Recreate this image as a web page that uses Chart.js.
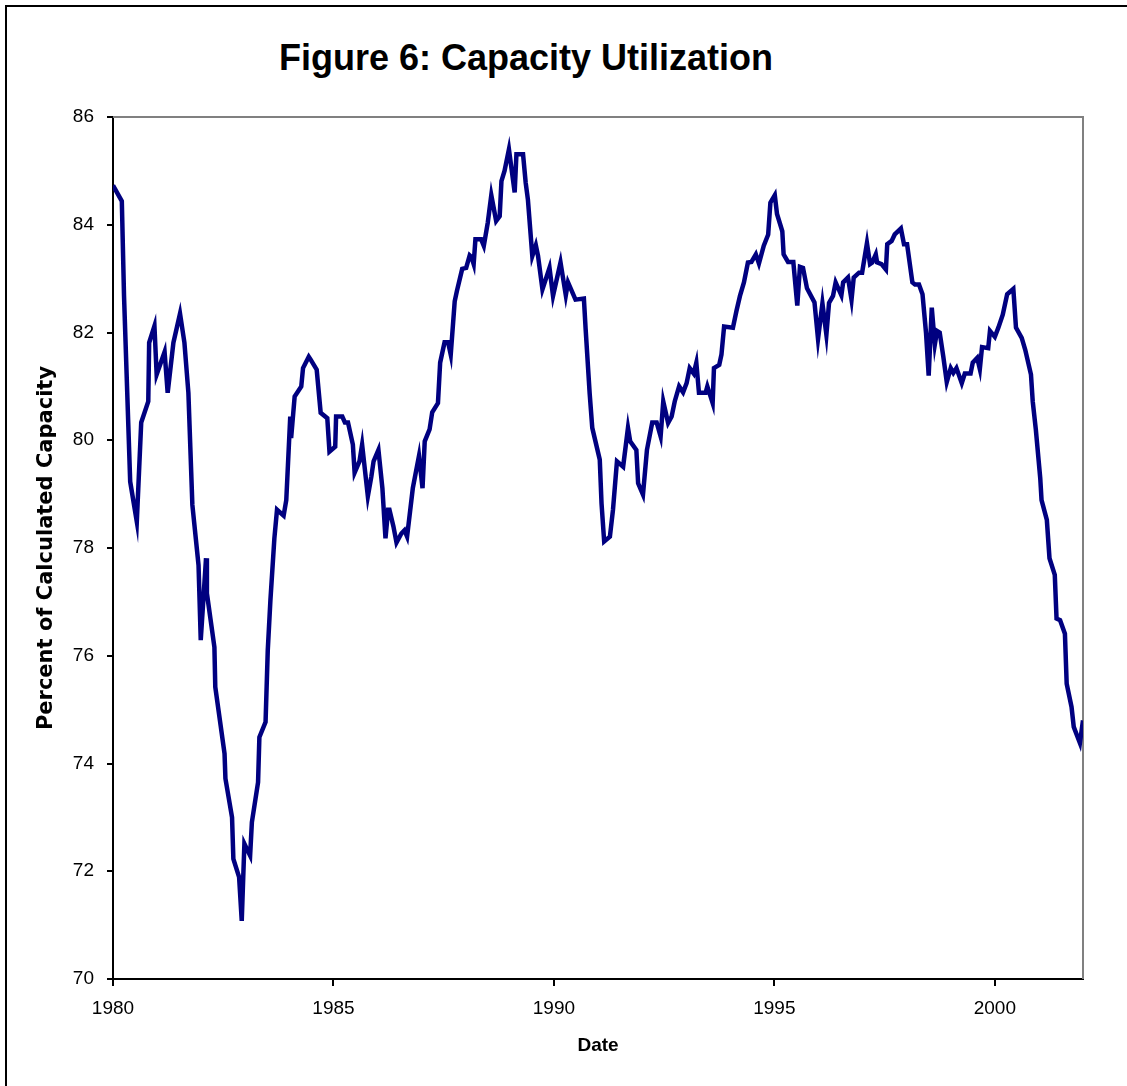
<!DOCTYPE html>
<html>
<head>
<meta charset="utf-8">
<title>Figure 6: Capacity Utilization</title>
<script src="https://cdn.jsdelivr.net/npm/chart.js@4.4.1/dist/chart.umd.min.js"></script>
<style>
  html, body { margin: 0; padding: 0; background: #fff; overflow: hidden; }
  #wrap { position: relative; width: 1127px; height: 1086px; }
  #frame { position: absolute; left: 5px; top: 5px; width: 1140px; height: 1100px;
           border-left: 2px solid #000; border-top: 2px solid #000; box-sizing: border-box; }
  #title { position: absolute; left: 0; top: 40px; width: 1052px; text-align: center;
           font: bold 36px "Liberation Sans", Arial, sans-serif; line-height: 36px; color: #000; }
  canvas { position: absolute; left: 0; top: 0; }
</style>
</head>
<body>
<div id="wrap">
  <div id="frame"></div>
  <div id="title">Figure 6: Capacity Utilization</div>
  <canvas id="myChart" width="1127" height="1086"></canvas>
</div>
<script>
// dates as decimal years
const dates = [
  1980.00, 1980.20, 1980.25, 1980.39, 1980.54, 1980.64, 1980.80, 1980.82, 1980.94, 1980.99,
  1981.17, 1981.24, 1981.37, 1981.52, 1981.62, 1981.71, 1981.80, 1981.94, 1981.99, 1982.11,
  1982.13, 1982.30, 1982.32, 1982.53, 1982.55, 1982.70, 1982.73, 1982.86, 1982.92, 1982.98,
  1983.11, 1983.15, 1983.29, 1983.32, 1983.46, 1983.51, 1983.57, 1983.66, 1983.72, 1983.87,
  1983.93, 1984.02, 1984.04, 1984.12, 1984.27, 1984.31, 1984.44, 1984.48, 1984.62, 1984.71,
  1984.86, 1984.91, 1985.04, 1985.06, 1985.20, 1985.26, 1985.33, 1985.44, 1985.48, 1985.59,
  1985.65, 1985.78, 1985.86, 1985.91, 1986.02, 1986.11, 1986.18, 1986.24, 1986.27, 1986.36,
  1986.43, 1986.54, 1986.61, 1986.67, 1986.80, 1986.94, 1987.02, 1987.07, 1987.18, 1987.24,
  1987.37, 1987.42, 1987.52, 1987.60, 1987.66, 1987.75, 1987.80, 1987.92, 1988.01, 1988.09,
  1988.13, 1988.18, 1988.22, 1988.35, 1988.41, 1988.50, 1988.58, 1988.69, 1988.77, 1988.81,
  1988.88, 1988.98, 1989.11, 1989.15, 1989.30, 1989.36, 1989.41, 1989.51, 1989.59, 1989.64,
  1989.74, 1989.90, 1989.98, 1990.15, 1990.27, 1990.32, 1990.49, 1990.68, 1990.72, 1990.81,
  1990.87, 1991.04, 1991.08, 1991.14, 1991.27, 1991.34, 1991.43, 1991.57, 1991.68, 1991.73,
  1991.87, 1991.91, 1992.02, 1992.11, 1992.23, 1992.33, 1992.42, 1992.48, 1992.59, 1992.67,
  1992.74, 1992.84, 1992.93, 1993.01, 1993.08, 1993.17, 1993.23, 1993.29, 1993.44, 1993.48,
  1993.60, 1993.63, 1993.75, 1993.80, 1993.86, 1994.06, 1994.14, 1994.22, 1994.31, 1994.40,
  1994.48, 1994.58, 1994.65, 1994.76, 1994.86, 1994.91, 1995.01, 1995.06, 1995.18, 1995.21,
  1995.31, 1995.43, 1995.52, 1995.58, 1995.65, 1995.74, 1995.91, 1995.99, 1996.09, 1996.18,
  1996.24, 1996.33, 1996.39, 1996.52, 1996.56, 1996.67, 1996.75, 1996.80, 1996.92, 1996.99,
  1997.10, 1997.17, 1997.22, 1997.30, 1997.33, 1997.43, 1997.53, 1997.56, 1997.66, 1997.73,
  1997.87, 1997.94, 1998.01, 1998.13, 1998.19, 1998.28, 1998.36, 1998.44, 1998.50, 1998.57,
  1998.64, 1998.69, 1998.75, 1998.83, 1998.91, 1999.00, 1999.06, 1999.13, 1999.25, 1999.32,
  1999.45, 1999.50, 1999.60, 1999.66, 1999.71, 1999.85, 1999.89, 2000.00, 2000.08, 2000.18,
  2000.28, 2000.42, 2000.48, 2000.61, 2000.69, 2000.82, 2000.86, 2000.93, 2001.03, 2001.06,
  2001.18, 2001.24, 2001.36, 2001.40, 2001.48, 2001.59, 2001.63, 2001.74, 2001.79, 2001.93,
  2002.00
];

const capUtil = [
  84.73, 84.44, 82.68, 79.23, 78.49, 80.33, 80.72, 81.81, 82.12, 81.22,
  81.64, 80.88, 81.81, 82.35, 81.81, 80.88, 78.80, 77.68, 76.29, 77.81,
  77.16, 76.16, 75.42, 74.18, 73.72, 73.00, 72.23, 71.89, 71.08, 72.51,
  72.29, 72.91, 73.65, 74.49, 74.77, 76.10, 77.03, 78.18, 78.71, 78.60,
  78.89, 80.44, 80.04, 80.81, 81.00, 81.34, 81.55, 81.50, 81.31, 80.51,
  80.41, 79.79, 79.88, 80.44, 80.44, 80.33, 80.33, 79.92, 79.40, 79.61,
  79.92, 78.96, 79.33, 79.61, 79.82, 79.11, 78.18, 78.71, 78.71, 78.40,
  78.10, 78.27, 78.33, 78.21, 79.11, 79.71, 79.11, 79.98, 80.20, 80.52,
  80.69, 81.44, 81.82, 81.82, 81.59, 82.58, 82.77, 83.18, 83.20, 83.43,
  83.40, 83.27, 83.73, 83.73, 83.61, 84.04, 84.55, 84.07, 84.16, 84.81,
  85.00, 85.40, 84.60, 85.31, 85.31, 84.78, 84.47, 83.42, 83.62, 83.42,
  82.80, 83.20, 82.68, 83.30, 82.69, 82.93, 82.61, 82.63, 82.06, 80.88,
  80.23, 79.64, 78.83, 78.12, 78.21, 78.71, 79.61, 79.51, 80.23, 79.98,
  79.82, 79.20, 78.99, 79.82, 80.33, 80.33, 80.07, 80.72, 80.32, 80.44,
  80.72, 81.00, 80.89, 81.06, 81.34, 81.24, 81.44, 80.88, 80.88, 81.00,
  80.69, 81.34, 81.40, 81.59, 82.11, 82.09, 82.40, 82.68, 82.93, 83.30,
  83.31, 83.45, 83.28, 83.61, 83.82, 84.41, 84.55, 84.20, 83.88, 83.45,
  83.31, 83.31, 82.50, 83.22, 83.20, 82.82, 82.56, 81.88, 82.54, 81.96,
  82.55, 82.68, 82.93, 82.69, 82.93, 83.02, 82.61, 83.02, 83.11, 83.11,
  83.66, 83.27, 83.30, 83.45, 83.30, 83.27, 83.17, 83.64, 83.70, 83.82,
  83.93, 83.64, 83.64, 82.93, 82.89, 82.89, 82.71, 81.99, 81.20, 82.46,
  81.78, 82.03, 82.00, 81.56, 81.08, 81.34, 81.25, 81.34, 81.06, 81.24,
  81.24, 81.44, 81.53, 81.32, 81.73, 81.71, 82.03, 81.92, 82.09, 82.33,
  82.71, 82.81, 82.09, 81.90, 81.68, 81.22, 80.72, 80.20, 79.30, 78.89,
  78.52, 77.81, 77.50, 76.69, 76.66, 76.41, 75.48, 75.05, 74.68, 74.38,
  74.80
];

const xTicks = [1980, 1985, 1990, 1995, 2000];
const yTicks = [70, 72, 74, 76, 78, 80, 82, 84, 86];

const points = dates.map((d, i) => ({ x: d, y: capUtil[i] }));

// grey top and right edges of the plot box
const plotFrame = {
  id: 'plotFrame',
  beforeDatasetsDraw(chart) {
    const { ctx, chartArea: a } = chart;
    ctx.save();
    ctx.strokeStyle = '#808080';
    ctx.lineWidth = 2;
    ctx.beginPath();
    ctx.moveTo(a.left, a.top);
    ctx.lineTo(a.right, a.top);
    ctx.lineTo(a.right, a.bottom);
    ctx.stroke();
    ctx.restore();
  }
};

const tickFont = { family: '"Liberation Sans", Arial, sans-serif', size: 19 };

new Chart(document.getElementById('myChart'), {
  type: 'line',
  data: {
    datasets: [{
      label: 'Capacity Utilization',
      data: points,
      borderColor: '#000080',
      borderWidth: 4.5,
      pointRadius: 0,
      tension: 0,
      fill: false
    }]
  },
  options: {
    responsive: false,
    animation: false,
    layout: { padding: { top: 117, right: 44, left: 0, bottom: 0 } },
    plugins: {
      legend: { display: false },
      tooltip: { enabled: false }
    },
    scales: {
      x: {
        type: 'linear',
        min: 1980,
        max: 2002,
        afterBuildTicks: (axis) => { axis.ticks = xTicks.map(v => ({ value: v })); },
        afterFit: (axis) => { axis.height = 107; },
        ticks: { color: '#000', font: tickFont, padding: 11, maxRotation: 0,
                 callback: (v) => String(v) },
        grid: { drawOnChartArea: false, tickLength: 7, tickColor: '#000', lineWidth: 2 },
        border: { color: '#000', width: 2 },
        title: {
          display: true,
          text: 'Date',
          color: '#000',
          font: { family: '"Liberation Sans", Arial, sans-serif', size: 19, weight: 'bold' },
          padding: { top: 0, bottom: 29 }
        }
      },
      y: {
        min: 70,
        max: 86,
        afterBuildTicks: (axis) => { axis.ticks = yTicks.map(v => ({ value: v })); },
        afterFit: (axis) => { axis.width = 113; },
        ticks: { color: '#000', font: tickFont, padding: 13 },
        grid: { drawOnChartArea: false, tickLength: 6, tickColor: '#000', lineWidth: 2 },
        border: { color: '#000', width: 2 },
        title: {
          display: true,
          text: 'Percent of Calculated Capacity',
          color: '#000',
          font: { family: '"DejaVu Sans", sans-serif', size: 21, weight: 'bold' },
          padding: { top: 34, bottom: 0 }
        }
      }
    }
  },
  plugins: [plotFrame]
});
</script>
</body>
</html>
